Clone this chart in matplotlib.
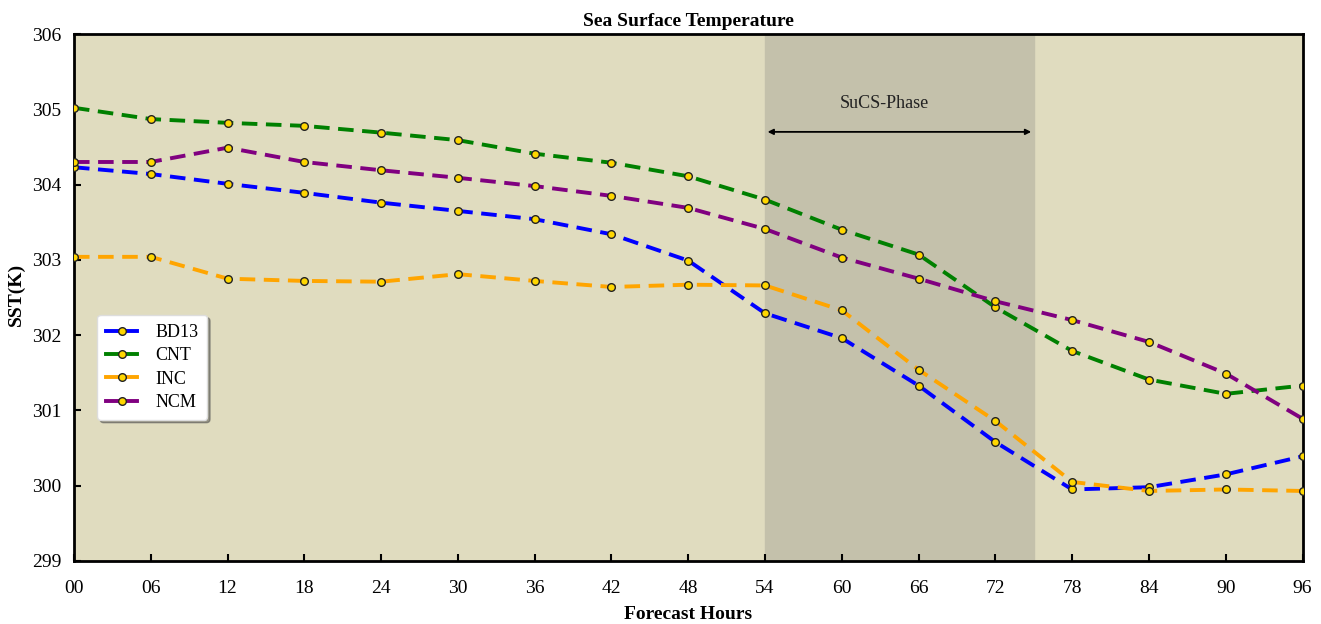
import matplotlib
matplotlib.use("Agg")
import matplotlib.pyplot as plt

hours = [0, 6, 12, 18, 24, 30, 36, 42, 48, 54, 60, 66, 72, 78, 84, 90, 96]
hour_labels = ["00", "06", "12", "18", "24", "30", "36", "42", "48", "54", "60", "66", "72", "78", "84", "90", "96"]
bd13 = [304.23, 304.14, 304.01, 303.89, 303.76, 303.65, 303.54, 303.34, 302.99, 302.29, 301.96, 301.33, 300.58, 299.95, 299.98, 300.15, 300.39]
cnt = [305.02, 304.87, 304.82, 304.78, 304.69, 304.59, 304.41, 304.29, 304.11, 303.80, 303.40, 303.07, 302.37, 301.79, 301.41, 301.22, 301.33]
inc = [303.04, 303.04, 302.75, 302.72, 302.71, 302.81, 302.72, 302.64, 302.67, 302.66, 302.33, 301.54, 300.86, 300.05, 299.93, 299.95, 299.93]
ncm = [304.30, 304.30, 304.49, 304.30, 304.19, 304.09, 303.98, 303.85, 303.69, 303.41, 303.03, 302.75, 302.45, 302.20, 301.91, 301.49, 300.89]
series = [("BD13", bd13, "blue"), ("CNT", cnt, "green"), ("INC", inc, "orange"), ("NCM", ncm, "purple")]
phase_start, phase_end = 54, 75

plt.rcParams['font.family'] = ['Liberation Serif', 'DejaVu Serif']

fig = plt.figure(figsize=(13.21, 6.24), dpi=100)
ax = fig.add_axes([0.056, 0.101, 0.93, 0.8445])
ax.set_facecolor("#e0dcbf")
ax.axvspan(phase_start, phase_end, color="#c4c1ab", zorder=0)

for name, vals, col in series:
    ax.plot(hours, vals, linestyle=(0, (4, 2.2)), color=col, linewidth=2.8,
            marker="o", markersize=5.5, markerfacecolor="gold",
            markeredgecolor="#222222", markeredgewidth=1.0, label=name, zorder=3)

ax.annotate("", xy=(phase_start + 0.2, 304.70), xytext=(phase_end - 0.2, 304.70),
            arrowprops=dict(arrowstyle="<|-|>", color="black", lw=1.3,
                            mutation_scale=8, shrinkA=0, shrinkB=0, facecolor="#1f5fa0"))
ax.text(63.3, 305.08, "SuCS-Phase", ha="center", va="center", fontsize=13, color="#222222")

ax.set_xlim(0, 96)
ax.set_ylim(299, 306)
ax.set_xticks(hours)
ax.set_xticklabels(hour_labels)
ax.set_yticks(range(299, 307))
ax.tick_params(direction="in", length=5, width=1.5, labelsize=14)
ax.tick_params(axis="x", pad=14)
ax.tick_params(axis="y", pad=9)
for s in ax.spines.values():
    s.set_linewidth(2)

ax.set_title("Sea Surface Temperature", fontsize=14, fontweight="bold", pad=6)
ax.set_xlabel("Forecast Hours", fontsize=14, fontweight="bold", labelpad=6)
ax.set_ylabel("SST(K)", fontsize=14, fontweight="bold")
ax.yaxis.set_label_coords(-0.040, 0.505)

leg = ax.legend(loc="upper left", bbox_to_anchor=(0.019, 0.467), borderaxespad=0,
                fontsize=13, frameon=True, fancybox=True, shadow=True,
                handlelength=1.7, borderpad=0.5, labelspacing=0.35, handletextpad=1.0)
leg.get_frame().set_facecolor("white")
leg.get_frame().set_edgecolor("#dddddd")
for line in leg.get_lines():
    line.set_linestyle("-")

fig.savefig("out.png", dpi=100)
